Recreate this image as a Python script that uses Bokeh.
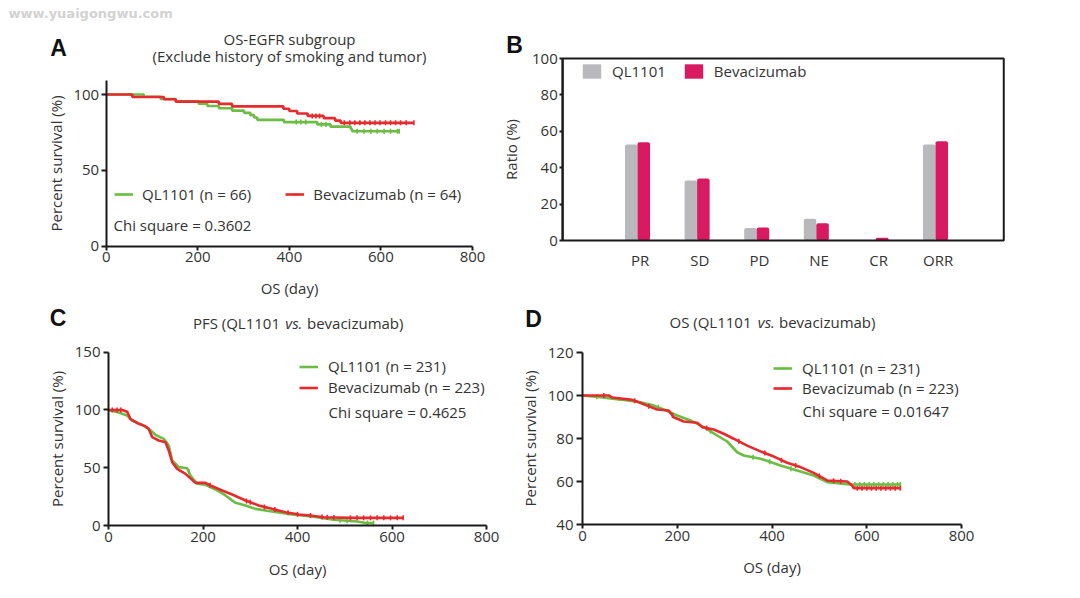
import math
import numpy as np
from bokeh.plotting import figure
from bokeh.models import Range1d, Label, Legend, LegendItem, FixedTicker, BoxAnnotation
from bokeh.layouts import column, row
from bokeh.embed import file_html
from bokeh.resources import INLINE

FONT = "Open Sans"
TXT = "#333333"
AXC = "#1a1a1a"
GREEN = "#6cbd45"
RED = "#e62a2e"
GREY = "#b9b9bd"
PINK = "#d81b60"

# ---------------- data ----------------
x_ticks = [0, 200, 400, 600, 800]

# Panel A: OS-EGFR subgroup (Kaplan-Meier, days / percent survival)
a_ql_t = [0, 82, 119, 152, 202, 221, 246, 275, 301, 315, 323, 330, 388, 461, 490, 534, 537, 640]
a_ql_s = [100, 98.5, 97.0, 95.5, 93.9, 92.4, 90.9, 89.4, 87.9, 86.4, 84.8, 83.3, 81.8, 80.3, 78.8, 77.3, 75.8, 75.8]
a_ql_cens = [415, 425, 436, 470, 480, 548, 563, 578, 592, 607, 621, 636, 640]
a_bev_t = [0, 57, 126, 152, 246, 275, 387, 400, 417, 440, 475, 500, 512, 672]
a_bev_s = [100, 98.4, 96.9, 95.3, 93.8, 92.2, 90.6, 89.1, 87.5, 85.9, 84.4, 82.8, 81.3, 81.3]
a_bev_cens = [450, 458, 466, 520, 532, 543, 554, 565, 576, 587, 598, 610, 621, 632, 643, 655, 672]

# Panel B: response ratios
categories = ["PR", "SD", "PD", "NE", "CR", "ORR"]
b_ql = [52.7, 33.0, 6.8, 12.0, 0.0, 52.7]
b_bev = [54.0, 34.0, 7.1, 9.5, 1.5, 54.5]

# Panel C: PFS
c_ql_t = [0, 20, 39.5, 50, 71, 85, 99.5, 117, 127.6, 134.8, 148.9, 166.5, 173.5, 187.7, 205, 226.5,
          247.6, 268.8, 290, 311, 346, 388.7, 430, 477, 526, 545, 561]
c_ql_s = [100, 98, 95.2, 90.9, 87.1, 83.7, 78.5, 75, 69.2, 56.3, 50.5, 49.6, 43.3, 36.1, 35.2, 31.2,
          26, 19.6, 17.3, 14.4, 12.1, 9.5, 7.8, 5.0, 3.5, 2.2, 2.2]
c_ql_cens = [170, 490, 505, 548, 561]
c_bev_t = [0, 29, 39.5, 46.6, 64, 78, 85, 92.4, 106.5, 120.6, 127.6, 134.8, 145.4, 163, 184, 205, 216,
           240.6, 261.7, 290, 318, 346, 374.6, 402.8, 427.5, 455, 512, 625]
c_bev_s = [100, 100, 98.5, 92.1, 88, 86, 83.7, 76.5, 73.6, 72.1, 64.9, 54.8, 49, 44.7, 36.9, 36.9, 34.6,
           30.3, 26.8, 21.6, 17.3, 14.4, 11.5, 9.5, 8.7, 7.2, 6.6, 6.6]
c_bev_cens = [8, 18, 26, 215, 292, 300, 330, 352, 380, 400, 427.5, 452, 463, 477, 512, 526, 540,
              554.5, 568.6, 582.7, 596.8, 611, 623.6]

# Panel D: OS
d_ql_t = [0, 38, 80, 122.4, 150.5, 171.6, 199.9, 228, 256, 284.3, 305.4, 326.5, 340.5, 375.7, 418,
          460, 488, 516.5, 565.7, 671]
d_ql_s = [100, 99.2, 98.1, 96.9, 95.3, 93.5, 90.7, 88.4, 85.3, 81.4, 78.6, 73.6, 72.1, 70.6, 67.4,
          64.7, 62.8, 59.7, 58.6, 58.6]
d_ql_cens = [30, 160, 270, 360, 395, 440, 575, 585, 595, 605, 615, 625, 635, 645, 655, 665, 671]
d_bev_t = [0, 55.5, 62.6, 101, 115, 136.5, 157.6, 182, 192.7, 213.8, 242, 252.6, 277, 298, 319, 347.6,
           375.7, 403.9, 432, 460, 488, 516.5, 558.7, 569, 572.7, 671]
d_bev_s = [100, 100, 99.1, 98.1, 97.2, 95.3, 93.5, 93.0, 89.9, 87.9, 87.3, 85.3, 84.2, 82.2, 79.9, 76.7,
           74.0, 71.6, 68.7, 66.7, 64.0, 60.5, 60.0, 58.1, 56.9, 56.9]
d_bev_cens = [45, 110, 140, 190, 262, 330, 385, 420, 450, 500, 530, 545, 580, 590, 600, 610, 620, 630,
              640, 650, 660, 671]


# ---------------- helpers ----------------
def step_at(ts, ss, t):
    idx = int(np.searchsorted(np.asarray(ts), t, side="right")) - 1
    return ss[max(idx, 0)]


def make_fig(ox, oy, w, h, xa, ya):
    """Figure whose frame is the whole canvas; xa/ya = (value1, pixel1, value2, pixel2) in page pixels."""
    v1, p1, v2, p2 = xa
    kx = (p2 - p1) / (v2 - v1)
    xs = v1 + (ox - p1) / kx
    xe = v1 + (ox + w - p1) / kx
    u1, q1, u2, q2 = ya
    ky = (q1 - q2) / (u2 - u1)
    ys = u1 - (oy + h - q1) / ky
    ye = u1 + (q1 - oy) / ky
    p = figure(width=w, height=h, x_range=Range1d(xs, xe), y_range=Range1d(ys, ye),
               output_backend="svg", toolbar_location=None,
               min_border_left=0, min_border_right=0, min_border_top=0, min_border_bottom=0)
    p.grid.visible = False
    p.outline_line_color = None
    p.background_fill_color = "white"
    p.border_fill_color = "white"
    p.xaxis.fixed_location = u1
    p.yaxis.fixed_location = v1
    for ax in (p.xaxis, p.yaxis):
        ax.axis_line_width = 2
        ax.axis_line_color = AXC
        ax.major_tick_line_width = 2
        ax.major_tick_line_color = AXC
        ax.minor_tick_out = 0
        ax.minor_tick_in = 0
        ax.major_tick_in = 0
        ax.major_label_text_font = FONT
        ax.major_label_text_font_size = "15px"
        ax.major_label_text_color = TXT
        ax.axis_label_text_font = FONT
        ax.axis_label_text_font_size = "15px"
        ax.axis_label_text_font_style = "normal"
        ax.axis_label_text_color = TXT
    p._origin = (ox, oy, h)
    return p


def lab(p, px, py, text, size="15px", align="left", baseline="middle", style="normal",
        font=FONT, color=TXT):
    ox, oy, h = p._origin
    p.add_layout(Label(x=px - ox, y=oy + h - py, x_units="screen", y_units="screen", text=text,
                       text_font=font, text_font_size=size, text_align=align,
                       text_baseline=baseline, text_font_style=style, text_color=color))


def km_axes(p, yticks, ybounds, ytick_out, ystandoff, xlabel_standoff):
    p.xaxis.ticker = FixedTicker(ticks=x_ticks)
    p.yaxis.ticker = FixedTicker(ticks=yticks)
    p.xaxis.bounds = (0, 800)
    p.yaxis.bounds = ybounds
    p.xaxis.major_tick_out = 4
    p.xaxis.major_label_standoff = 2
    p.yaxis.major_tick_out = ytick_out
    p.yaxis.major_label_standoff = ystandoff
    p.yaxis.axis_label = "Percent survival (%)"
    p.yaxis.axis_label_standoff = 5
    p.xaxis.axis_label = "OS (day)"
    p.xaxis.axis_label_standoff = xlabel_standoff


def km_curves(p, series, step=True):
    items = []
    for label, ts, ss, cens, color in series:
        if step:
            r = p.step(ts, ss, mode="after", line_color=color, line_width=2.6)
            cy = [step_at(ts, ss, c) for c in cens]
        else:
            r = p.line(ts, ss, line_color=color, line_width=2.6)
            cy = list(np.interp(cens, ts, ss))
        m = p.scatter(cens, cy, marker="dash", angle=math.pi / 2, size=5,
                      line_color=color, line_width=1.6)
        items.append(LegendItem(label=label, renderers=[r, m]))
    return items


def add_legend(p, items, glyph_px, bottom_py, orientation, glyph_w, glyph_h, standoff, spacing):
    ox, oy, h = p._origin
    lg = Legend(items=items, location=(glyph_px - ox, oy + h - bottom_py), orientation=orientation,
                glyph_width=glyph_w, glyph_height=glyph_h, label_height=glyph_h,
                label_standoff=standoff, spacing=spacing, padding=0, margin=0,
                background_fill_alpha=0, border_line_alpha=0,
                label_text_font=FONT, label_text_font_size="15px", label_text_color=TXT)
    p.add_layout(lg)


# ---------------- Panel A ----------------
pA = make_fig(0, 0, 500, 302, (0, 105.7, 800, 472.0), (0, 245.7, 100, 94.0))
km_axes(pA, [0, 50, 100], (0, 109.2), 5, 2, 12)
itemsA = km_curves(pA, [("QL1101 (n = 66)", a_ql_t, a_ql_s, a_ql_cens, GREEN),
                        ("Bevacizumab (n = 64)", a_bev_t, a_bev_s, a_bev_cens, RED)], step=True)
add_legend(pA, itemsA, 114, 204, "horizontal", 19, 20, 9, 34)
lab(pA, 113, 224, "Chi square = 0.3602")
lab(pA, 289, 38, "OS-EGFR subgroup", align="center")
lab(pA, 289, 55, "(Exclude history of smoking and tumor)", align="center")
lab(pA, 58, 47, "A", size="23px", align="center", style="bold", font="Liberation Sans", color="#111111")
lab(pA, 8, 5, "www.yuaigongwu.com", size="13px", baseline="top", style="bold",
    font="DejaVu Sans", color="#d2d2d2")

# ---------------- Panel B ----------------
B_LEFT, B_RIGHT = -0.3, 7.1
pB = make_fig(500, 0, 575, 302, (1, 639.7, 6, 937.7), (0, 240.0, 100, 58.0))
pB.xaxis.fixed_location = 0
pB.yaxis.fixed_location = B_LEFT
xs = list(range(1, len(categories) + 1))
pB.xaxis.ticker = FixedTicker(ticks=xs)
pB.xaxis.major_label_overrides = {x: c for x, c in zip(xs, categories)}
pB.xaxis.major_tick_out = 0
pB.xaxis.axis_line_color = None
pB.xaxis.major_tick_line_color = None
pB.xaxis.major_label_standoff = 9
pB.yaxis.ticker = FixedTicker(ticks=[0, 20, 40, 60, 80, 100])
pB.yaxis.bounds = (0, 100)
pB.yaxis.major_tick_out = 3
pB.yaxis.major_label_standoff = 2
pB.yaxis.axis_label = "Ratio (%)"
pB.yaxis.axis_label_standoff = 8
rg = pB.vbar(x=[x - 0.15 for x in xs], top=b_ql, width=0.21, fill_color=GREY, line_color=None,
             border_radius=2)
rp = pB.vbar(x=[x + 0.06 for x in xs], top=b_bev, width=0.21, fill_color=PINK, line_color=None,
             border_radius=2)
pB.add_layout(BoxAnnotation(left=B_LEFT, right=B_RIGHT, bottom=0, top=100,
                            fill_alpha=0, line_color=AXC, line_alpha=1.0, line_width=2))
add_legend(pB, [LegendItem(label="QL1101", renderers=[rg]),
                LegendItem(label="Bevacizumab", renderers=[rp])],
           580, 81, "horizontal", 23, 18, 9, 16)
lab(pB, 514, 44, "B", size="23px", align="center", style="bold", font="Liberation Sans", color="#111111")

# ---------------- Panel C ----------------
pC = make_fig(0, 302, 500, 296, (0, 108.0, 800, 486.0), (0, 525.0, 150, 351.7))
km_axes(pC, [0, 50, 100, 150], (0, 150), 5, 3, 14)
itemsC = km_curves(pC, [("QL1101 (n = 231)", c_ql_t, c_ql_s, c_ql_cens, GREEN),
                        ("Bevacizumab (n = 223)", c_bev_t, c_bev_s, c_bev_cens, RED)], step=False)
add_legend(pC, itemsC, 299, 397.5, "vertical", 19, 21, 10, 0)
lab(pC, 328, 411, "Chi square = 0.4625")
lab(pC, 279.5, 322, "PFS (QL1101", align="right")
lab(pC, 293.3, 322, "vs.", align="center", style="italic")
lab(pC, 306.5, 322, "bevacizumab)", align="left")
lab(pC, 57.5, 317.5, "C", size="23px", align="center", style="bold", font="Liberation Sans", color="#111111")

# ---------------- Panel D ----------------
pD = make_fig(500, 302, 575, 296, (0, 582.0, 800, 961.0), (40, 524.0, 120, 352.0))
km_axes(pD, [40, 60, 80, 100, 120], (40, 120), 6, 3, 13)
itemsD = km_curves(pD, [("QL1101 (n = 231)", d_ql_t, d_ql_s, d_ql_cens, GREEN),
                        ("Bevacizumab (n = 223)", d_bev_t, d_bev_s, d_bev_cens, RED)], step=False)
add_legend(pD, itemsD, 773, 398, "vertical", 19, 20, 10, 0)
lab(pD, 802, 410, "Chi square = 0.01647")
lab(pD, 751, 321.7, "OS (QL1101", align="right")
lab(pD, 765.8, 321.7, "vs.", align="center", style="italic")
lab(pD, 778.5, 321.7, "bevacizumab)", align="left")
lab(pD, 533, 318, "D", size="23px", align="center", style="bold", font="Liberation Sans", color="#111111")

layout = column(row(pA, pB), row(pC, pD))
open("out.html", "w").write(file_html(layout, INLINE))
